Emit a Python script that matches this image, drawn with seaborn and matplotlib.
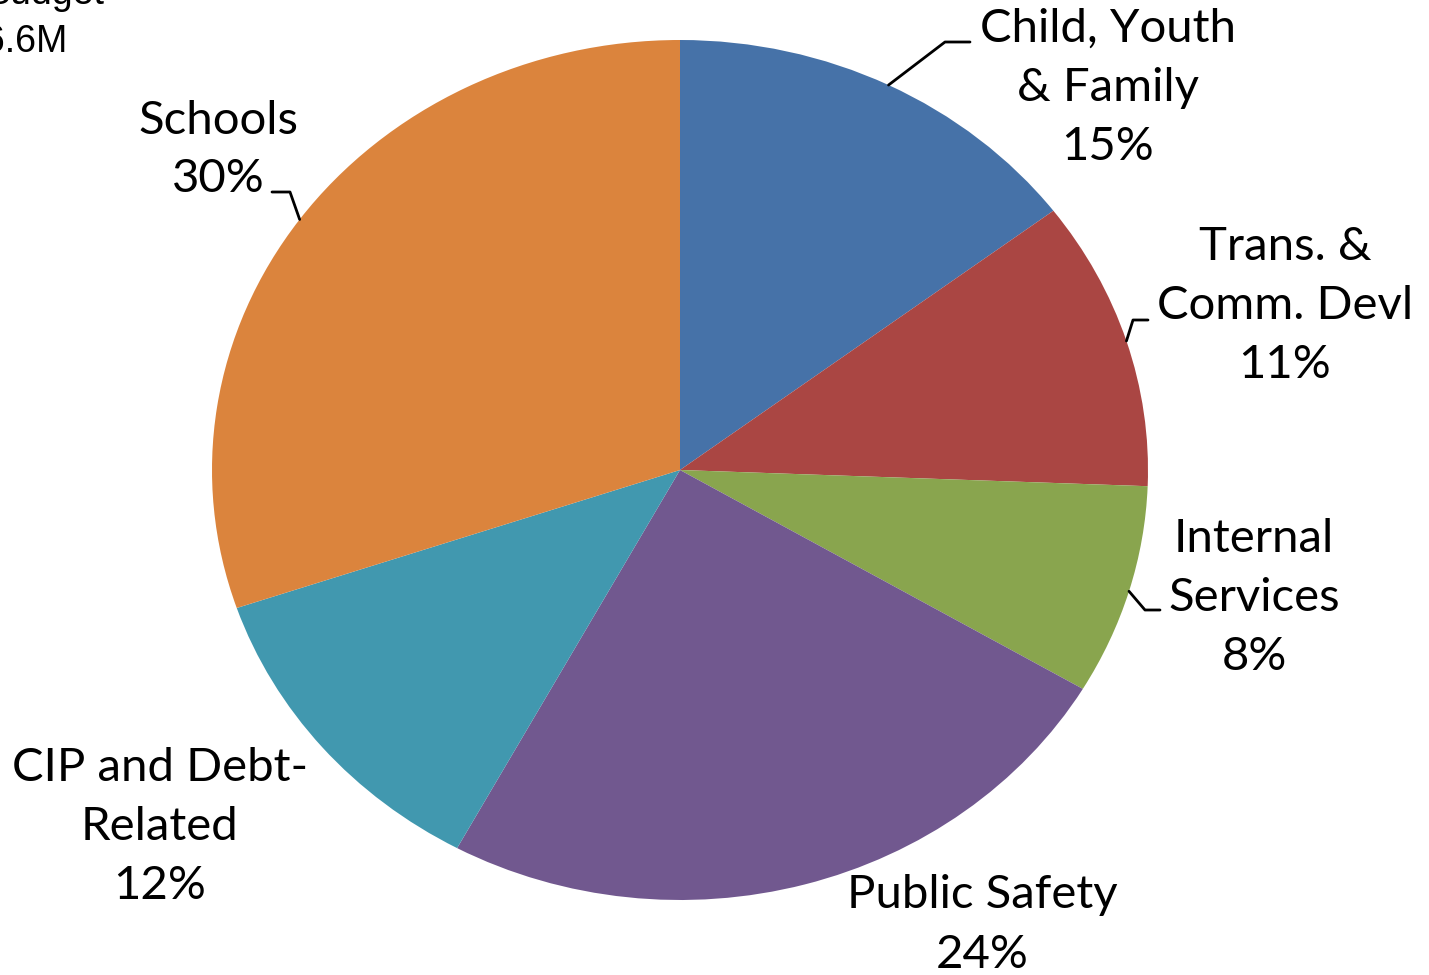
import numpy as np
import matplotlib
matplotlib.use("Agg")
import matplotlib.pyplot as plt
import seaborn as sns

categories = ["Child, Youth\n& Family", "Trans. &\nComm. Devl", "Internal\nServices",
              "Public Safety", "CIP and Debt-\nRelated", "Schools"]
values = [14.7, 10.9, 7.9, 24.4, 11.9, 30.2]
pct_labels = ["15%", "11%", "8%", "24%", "12%", "30%"]
colors = ["#4672A8", "#AA4643", "#89A54E", "#71588F", "#4198AF", "#DB843D"]

sns.set_theme(style="white")
plt.rcParams['font.family'] = ['Lato', 'DejaVu Sans']

W, H = 1429, 975
fig = plt.figure(figsize=(W / 100, H / 100), dpi=100)
ax = fig.add_axes([0, 0, 1, 1])

cx, cy, rx, ry = 680, 470, 468, 430
def px(x, y):
    return ((x - cx) / rx, (cy - y) / ry)

wedges, _ = ax.pie(values, colors=colors, startangle=90, counterclock=False,
                   wedgeprops=dict(linewidth=0))
ax.set_aspect('auto')
ax.set_xlim(px(0, 0)[0], px(W, 0)[0])
ax.set_ylim(px(0, H)[1], px(0, 0)[1])
ax.axis('off')

fs = 34
# label centers (pixels) and leader elbows
label_pos = [(1108, 88), (1285, 306), (1254, 598), (982, 925), (160, 827), (218, 150)]
leaders = {0: [(945, 42), (970, 42)],
           1: [(1133, 320), (1148, 320)],
           2: [(1145, 610), (1160, 610)],
           5: [(290, 192), (272, 192)]}

for i, (w, cat, p) in enumerate(zip(wedges, categories, pct_labels)):
    lx, ly = px(*label_pos[i])
    ax.text(lx, ly, f"{cat}\n{p}", ha='center', va='center', fontsize=fs,
            color='black', linespacing=1.5)
    if i in leaders:
        mid = np.deg2rad((w.theta1 + w.theta2) / 2)
        pts = [(np.cos(mid), np.sin(mid))] + [px(*q) for q in leaders[i]]
        xs, ys = zip(*pts)
        ax.plot(xs, ys, color='black', lw=2)

ax.text(*px(105, -6), "Budget", ha='right', va='center', fontsize=27,
        color='black', family=['Liberation Sans'])
ax.text(*px(68, 42), "$6.6M", ha='right', va='center', fontsize=27,
        color='black', family=['Liberation Sans'])

fig.savefig("out.png", dpi=100)
